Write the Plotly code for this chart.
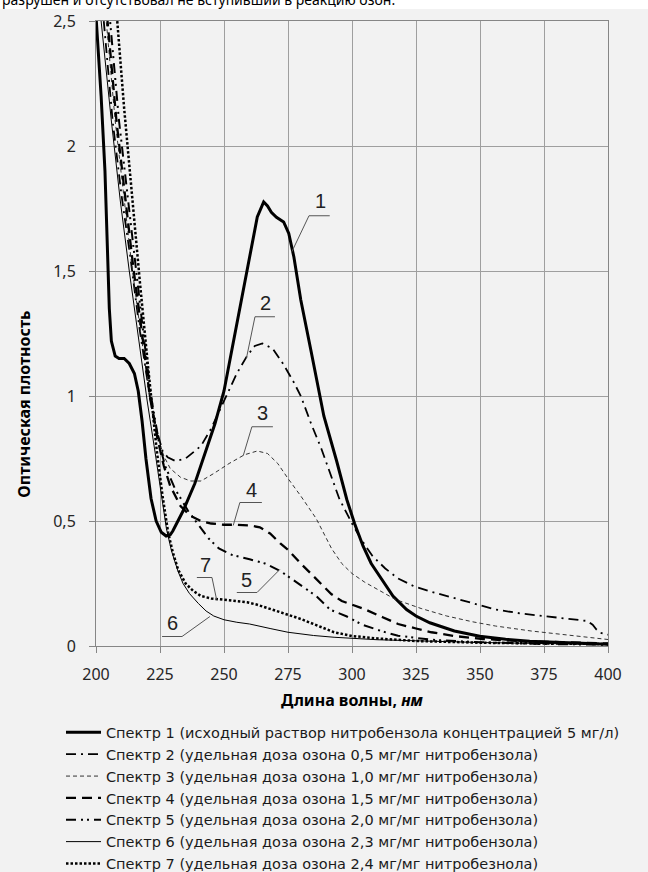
import plotly.graph_objects as go

# ---- data (wavelength, nm / optical density) ----
x1 = [200, 202, 203.5, 204.5, 205.2, 206, 207.5, 209, 211, 213, 215, 216.5, 218, 219.5, 221.5, 223.5, 225.5, 227.4, 229, 230,
      234, 238.6, 242, 246.5, 250, 254.3, 256.3, 260, 263, 265.5, 267, 268.5, 270.5, 273.3, 275.3, 277.3, 280, 284, 289,
      294, 298, 301, 304.3, 307.5, 310.9, 316, 321.3, 325, 330.4, 340, 349.9, 360, 369.4, 385, 400]
y1 = [2.52, 2.2, 1.9, 1.6, 1.35, 1.22, 1.16, 1.15, 1.15, 1.13, 1.09, 1.02, 0.9, 0.75, 0.59, 0.5, 0.455, 0.44, 0.445, 0.46,
      0.54, 0.65, 0.75, 0.89, 1.02, 1.25, 1.357, 1.55, 1.716, 1.776, 1.76, 1.735, 1.715, 1.696, 1.65, 1.556, 1.384, 1.18, 0.92,
      0.74, 0.585, 0.49, 0.40, 0.33, 0.279, 0.2, 0.146, 0.12, 0.093, 0.06, 0.039, 0.027, 0.019, 0.012, 0.007]

x2 = [200, 203, 206.5, 210, 213.5, 217, 221, 223.5, 226, 228, 231, 235, 241, 245, 250, 255, 259, 262, 265, 269, 273, 277,
      280, 284, 288, 291.5, 295, 300, 304, 308, 313, 318, 324, 330, 337, 346, 356, 366, 376, 385, 392, 394, 395.5, 397, 400]
y2 = [2.85, 2.5, 2.1, 1.8, 1.55, 1.27, 1.0, 0.87, 0.78, 0.755, 0.74, 0.75, 0.8, 0.87, 0.98, 1.09, 1.16, 1.2, 1.21, 1.19, 1.13,
      1.06, 1.0, 0.89, 0.79, 0.69, 0.59, 0.49, 0.42, 0.36, 0.31, 0.27, 0.24, 0.22, 0.2, 0.172, 0.146, 0.13, 0.119, 0.108, 0.1,
      0.085, 0.066, 0.053, 0.045]

x3 = [200, 204, 207.5, 211, 214, 217.5, 221, 224, 226.5, 229, 233, 237, 241, 246, 252, 258, 263, 267, 271, 275, 280, 286,
      292, 296, 300, 305, 311, 317, 327, 337, 347, 356, 370, 382, 392, 400]
y3 = [2.8, 2.5, 2.1, 1.78, 1.52, 1.25, 1.0, 0.84, 0.76, 0.71, 0.675, 0.66, 0.66, 0.69, 0.73, 0.765, 0.78, 0.77, 0.73, 0.67,
      0.6, 0.51, 0.39, 0.33, 0.29, 0.255, 0.22, 0.186, 0.15, 0.12, 0.097, 0.08, 0.06, 0.046, 0.035, 0.026]

x4 = [200, 204.5, 208, 211.5, 214.5, 218, 221, 224, 226.5, 229, 233, 237, 241, 245, 250, 255, 260, 264, 268, 272, 275, 280,
      286, 292, 296, 300, 305, 312, 318, 325, 331, 340, 351, 365, 380, 400]
y4 = [2.9, 2.5, 2.1, 1.78, 1.52, 1.25, 1.0, 0.83, 0.72, 0.64, 0.56, 0.52, 0.5, 0.49, 0.485, 0.485, 0.482, 0.475, 0.45, 0.41,
      0.385, 0.33, 0.27, 0.207, 0.18, 0.165, 0.147, 0.115, 0.088, 0.07, 0.055, 0.04, 0.028, 0.02, 0.015, 0.01]

x5 = [200, 205.5, 209, 212.5, 215.5, 218.5, 221.5, 224.5, 227, 231, 236, 240.5, 244, 248, 253, 260, 266, 272, 279, 286,
      291.5, 298, 304, 312, 318, 331, 350, 375, 400]
y5 = [3.0, 2.5, 2.1, 1.78, 1.52, 1.25, 1.0, 0.82, 0.72, 0.626, 0.54, 0.48, 0.43, 0.39, 0.365, 0.347, 0.33, 0.30, 0.25, 0.20,
      0.145, 0.118, 0.085, 0.058, 0.041, 0.025, 0.015, 0.008, 0.005]

x6 = [200, 202, 206, 209.5, 213, 217, 220, 223, 225.5, 227.5, 229.5, 232, 234, 236.5, 240, 243, 246, 250, 255, 260, 268,
      275, 285, 293, 310, 330, 350, 375, 400]
y6 = [2.75, 2.5, 2.1, 1.78, 1.5, 1.2, 0.98, 0.78, 0.6, 0.47, 0.38, 0.3, 0.25, 0.21, 0.17, 0.14, 0.12, 0.105, 0.095, 0.088,
      0.07, 0.055, 0.042, 0.035, 0.025, 0.018, 0.014, 0.01, 0.006]

x7 = [200, 208.3, 211, 214, 217.2, 220.5, 223.7, 226, 228.2, 230, 232.1, 235, 238, 241, 245, 250, 255, 259, 263, 267, 272,
      280, 287, 293, 300, 310, 325, 350, 375, 400]
y7 = [3.45, 2.5, 2.15, 1.8, 1.45, 1.1, 0.785, 0.6, 0.453, 0.375, 0.305, 0.25, 0.22, 0.2, 0.19, 0.185, 0.18, 0.175, 0.165,
      0.153, 0.135, 0.108, 0.08, 0.055, 0.04, 0.03, 0.02, 0.013, 0.01, 0.008]

series_names = [
    "Спектр 1 (исходный раствор нитробензола концентрацией 5 мг/л)",
    "Спектр 2 (удельная доза озона 0,5 мг/мг нитробензола)",
    "Спектр 3 (удельная доза озона 1,0 мг/мг нитробензола)",
    "Спектр 4 (удельная доза озона 1,5 мг/мг нитробензола)",
    "Спектр 5 (удельная доза озона 2,0 мг/мг нитробензола)",
    "Спектр 6 (удельная доза озона 2,3 мг/мг нитробензола)",
    "Спектр 7 (удельная доза озона 2,4 мг/мг нитробезнола)",
]

x_ticks = [200, 225, 250, 275, 300, 325, 350, 375, 400]
y_ticks = [0, 0.5, 1, 1.5, 2, 2.5]
y_ticktext = ["0", "0,5", "1", "1,5", "2", "2,5"]

# curve labels: number, text position, underline, leader end
label_text = ["1", "2", "3", "4", "5", "6", "7"]
label_x = [287.8, 266.4, 265.2, 260.9, 258.9, 229.7, 242.6]
label_y = [1.781, 1.373, 0.934, 0.625, 0.266, 0.094, 0.326]
under_x0 = [283.2, 262.1, 260.9, 256.2, 255.0, 225.8, 239.4]
under_x1 = [291.3, 269.9, 269.1, 264.8, 262.9, 233.6, 245.3]
under_y = [1.721, 1.317, 0.877, 0.574, 0.214, 0.038, 0.274]
leader_from_x = [283.2, 262.1, 260.9, 256.2, 262.9, 233.6, 245.3]
leader_to_x = [276.5, 258.8, 257.5, 253.6, 271.8, 244.5, 247.1]
leader_to_y = [1.577, 1.153, 0.761, 0.482, 0.306, 0.118, 0.186]

FONT = "Noto Sans"
LEGEND_FONT = "DejaVu Sans"
BG = "#f2f2f2"

styles = [
    dict(width=3.0, dash="solid", color="#000000"),
    dict(width=1.8, dash="10px,5px,2px,5px", color="#000000"),
    dict(width=1.0, dash="4px,3px", color="#333333"),
    dict(width=2.3, dash="10px,6px", color="#000000"),
    dict(width=2.0, dash="10px,5px,2px,4px,2px,5px", color="#000000"),
    dict(width=1.0, dash="solid", color="#000000"),
    dict(width=2.5, dash="2.5px,2px", color="#000000"),
]

xs = [x1, x2, x3, x4, x5, x6, x7]
ys = [y1, y2, y3, y4, y5, y6, y7]

fig = go.Figure()
for xv, yv, nm, st in zip(xs, ys, series_names, styles):
    fig.add_trace(go.Scatter(x=xv, y=yv, mode="lines", name=nm, line=st))

shapes = []
annotations = []
for i in range(len(label_text)):
    shapes.append(dict(type="line", xref="x", yref="y", x0=under_x0[i], x1=under_x1[i], y0=under_y[i], y1=under_y[i],
                       line=dict(color="#555555", width=1)))
    shapes.append(dict(type="line", xref="x", yref="y", x0=leader_from_x[i], x1=leader_to_x[i], y0=under_y[i],
                       y1=leader_to_y[i], line=dict(color="#555555", width=1)))
    annotations.append(dict(x=label_x[i], y=label_y[i], xref="x", yref="y", text=label_text[i], showarrow=False,
                            xanchor="center", yanchor="middle",
                            font=dict(family="Liberation Sans", size=20, color="#222222")))

# white strip with cut text at very top
shapes.append(dict(type="rect", xref="paper", yref="paper", x0=-0.2, x1=1.1, y0=1.0192, y1=1.05,
                   fillcolor="#ffffff", line=dict(width=0), layer="below"))
annotations.append(dict(xref="paper", yref="paper", x=-96 / 512, y=1.0336 + 1 / 625.5, xanchor="left", yanchor="middle",
                        text="разрушен и отсутствовал не вступивший в реакцию озон.", showarrow=False,
                        font=dict(family=FONT, size=14, color="#000000")))
# axis titles
annotations.append(dict(xref="paper", yref="paper", x=(24 - 96) / 512, y=(646.5 - 405) / 625.5, textangle=-90,
                        xanchor="center", yanchor="middle",
                        text="<b>Оптическая плотность</b>", showarrow=False,
                        font=dict(family=FONT, size=16, color="#000000")))
annotations.append(dict(xref="paper", yref="paper", x=0.5, y=(646.5 - 701) / 625.5,
                        xanchor="center", yanchor="middle",
                        text="<b>Длина волны, <i>нм</i></b>", showarrow=False,
                        font=dict(family=FONT, size=16, color="#000000")))

fig.update_layout(
    width=648, height=872,
    margin=dict(l=96, r=40, t=21, b=225.5, autoexpand=False),
    paper_bgcolor=BG, plot_bgcolor=BG,
    font=dict(family=FONT, size=15, color="#1a1a1a"),
    showlegend=True,
    legend=dict(x=(61 - 96) / 512, y=(646.5 - 717) / 625.5, xanchor="left", yanchor="top",
                bgcolor="rgba(0,0,0,0)", font=dict(family=LEGEND_FONT, size=14.5, color="#1a1a1a"),
                itemwidth=35, tracegroupgap=0),
    shapes=shapes, annotations=annotations,
)
fig.update_xaxes(range=[200, 400], tickvals=x_ticks, ticks="outside", ticklen=6, tickcolor="#868686",
                 showline=True, linecolor="#868686", mirror=True, showgrid=True, gridcolor="#9f9f9f", gridwidth=1,
                 zeroline=False, tickfont=dict(family=FONT, size=16, color="#262626"), ticklabelstandoff=8)
fig.update_yaxes(range=[0, 2.5], tickvals=y_ticks, ticktext=y_ticktext, ticks="outside", ticklen=6, tickcolor="#868686",
                 showline=True, linecolor="#868686", mirror=True, showgrid=True, gridcolor="#9f9f9f", gridwidth=1,
                 zeroline=False, tickfont=dict(family=FONT, size=16, color="#262626"), ticklabelstandoff=10)

fig.write_html("out.html", config={"displayModeBar": False},
               post_script="document.body.style.margin='0';document.body.style.overflow='hidden';")
